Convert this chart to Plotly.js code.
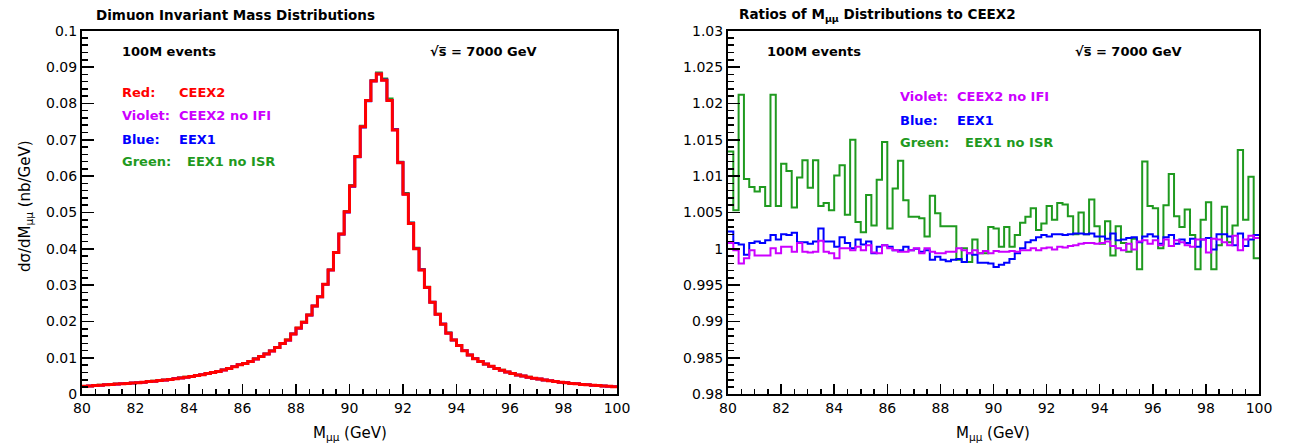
<!DOCTYPE html>
<html>
<head>
<meta charset="utf-8">
<script src="https://cdn.plot.ly/plotly-3.0.1.min.js"></script>
<style>html,body{margin:0;padding:0;background:#fff;}#chart{width:1290px;height:447px;}</style>
</head>
<body>
<div id="chart"></div>
<script>
// ---- data ----
const massMin = 80, massMax = 100, binWidth = 0.2;

// CEEX2 dσ/dM (nb/GeV), 100 bins of 0.2 GeV from 80 to 100
const ceex2 = [
  0.0022,0.0023,0.0024,0.0025,0.0026,0.0027,0.0028,0.0029,0.0030,0.0031,
  0.0032,0.0033,0.0035,0.0036,0.0038,0.0039,0.0041,0.0043,0.0045,0.0047,
  0.0049,0.0052,0.0054,0.0057,0.0060,0.0063,0.0067,0.0071,0.0076,
  0.0081,0.0085,0.0090,0.0097,0.0104,0.0111,0.0119,0.0129,0.0140,0.0149,
  0.0166,0.0182,0.0198,0.0218,0.0243,0.0268,0.0303,0.0342,0.0390,0.0441,
  0.0502,0.0573,0.0654,0.0736,0.0808,0.0862,0.0881,
  0.0864,0.0808,0.0727,0.0637,0.0550,0.0470,
  0.0400,0.0342,0.0294,0.0253,0.0220,0.0193,0.0168,0.0149,0.0134,0.0120,
  0.0108,0.0098,0.0090,0.0083,0.0077,0.0071,0.0066,0.0061,0.0057,0.0053,
  0.0050,0.0047,0.0044,0.0042,0.0039,0.0037,0.0035,0.0033,0.0032,0.0030,
  0.0029,0.0027,0.0026,0.0025,0.0024,0.0023,0.0022,0.0021
];

// Ratios to CEEX2
const ratioGreen = [
  1.0134,1.0053,1.0212,1.0096,1.0085,1.0079,1.0085,1.0059,1.0212,1.0059,
  1.0117,1.0107,1.0057,1.0098,1.0122,1.0084,1.0122,1.0059,1.0063,1.0053,
  1.0101,1.0115,1.0047,1.0150,1.0037,1.0023,1.0074,1.0032,1.0095,1.0147,
  1.0028,1.0083,1.0121,1.0067,1.0044,1.0044,1.0042,1.0017,1.0073,
  1.0049,1.0031,1.0031,1.0031,0.9985,1.0001,0.9982,1.0013,
  0.9994,0.9994,1.0030,1.0028,1.0003,1.0030,1.0003,1.0019,1.0036,1.0044,
  1.0056,1.0026,1.0035,1.0059,1.0040,1.0063,1.0061,1.0045,1.0020,1.0050,
  1.0020,1.0068,1.0031,1.0007,1.0038,0.9991,1.0031,1.0008,0.9996,1.0014,
  0.9972,1.0120,1.0059,1.0056,1.0001,1.0060,1.0103,1.0045,1.0030,1.0054,
  1.0019,0.9972,1.0040,1.0064,0.9972,1.0005,1.0058,1.0009,1.0032,1.0136,
  1.0040,1.0099,0.9987
];
const ratioBlue = [
  1.0024,1.0008,1.0006,0.9992,1.0008,1.0010,1.0008,1.0012,1.0019,1.0013,
  1.0020,1.0019,1.0022,1.0009,1.0009,1.0007,1.0010,1.0028,1.0010,1.0010,
  1.0003,1.0016,1.0008,1.0001,1.0013,1.0006,1.0010,0.9994,1.0003,1.0005,
  1.0003,0.9998,0.9998,1.0003,0.9998,1.0000,0.9996,0.9998,0.9985,0.9989,
  0.9985,0.9983,0.9985,0.9986,0.9982,0.9994,0.9992,0.9981,0.9981,0.9980,
  0.9975,0.9978,0.9981,0.9986,0.9994,1.0001,1.0009,1.0012,1.0016,1.0019,
  1.0017,1.0020,1.0020,1.0019,1.0020,1.0021,1.0021,1.0020,1.0021,1.0017,
  1.0017,1.0014,1.0021,1.0012,1.0013,1.0015,1.0016,1.0009,1.0017,1.0020,
  1.0017,1.0007,1.0016,1.0019,1.0007,1.0013,1.0008,1.0014,1.0003,1.0013,
  1.0015,0.9999,1.0020,1.0020,1.0017,1.0005,1.0021,1.0004,1.0013,1.0019
];
const ratioViolet = [
  1.0008,0.9998,0.9980,0.9987,0.9998,0.9991,0.9991,0.9991,1.0001,0.9994,
  1.0003,1.0003,0.9996,1.0008,0.9996,0.9995,0.9996,1.0011,0.9996,0.9994,
  0.9987,1.0001,1.0001,0.9998,1.0003,0.9998,1.0005,0.9995,0.9994,1.0005,
  1.0001,0.9998,0.9996,0.9996,0.9998,1.0001,0.9994,1.0001,0.9996,0.9994,
  0.9994,0.9996,0.9996,1.0001,0.9998,0.9994,0.9998,0.9994,0.9997,0.9994,
  0.9997,0.9996,0.9996,0.9997,0.9996,0.9998,0.9998,1.0001,0.9998,1.0001,
  1.0002,0.9999,1.0003,1.0002,1.0004,1.0005,1.0007,1.0008,1.0008,1.0007,
  1.0008,1.0010,1.0004,1.0001,0.9998,1.0007,0.9999,1.0010,1.0012,1.0007,
  1.0012,1.0005,1.0013,1.0004,1.0012,1.0009,1.0005,1.0003,1.0013,1.0013,
  0.9995,1.0014,1.0013,1.0009,1.0005,1.0018,0.9998,1.0013,1.0018,1.0015
];

// tick labels
const xTickVals = [80,82,84,86,88,90,92,94,96,98,100];
const xTickText = ["80","82","84","86","88","90","92","94","96","98","100"];
const yLeftVals = [0,0.01,0.02,0.03,0.04,0.05,0.06,0.07,0.08,0.09,0.1];
const yLeftText = ["0","0.01","0.02","0.03","0.04","0.05","0.06","0.07","0.08","0.09","0.1"];
const yRightVals = [0.98,0.985,0.99,0.995,1,1.005,1.01,1.015,1.02,1.025,1.03];
const yRightText = ["0.98","0.985","0.99","0.995","1","1.005","1.01","1.015","1.02","1.025","1.03"];

// ---- build ----
const W = 1290, H = 447;
const FONT = "DejaVu Sans";
const C = {red:"#ff0000", violet:"#cc00ff", blue:"#0000ff", green:"#1f9a1f"};

const nBins = ceex2.length;
const edges = [];
for (let i = 0; i <= nBins; i++) edges.push(+(massMin + i * binWidth).toFixed(3));
const stepY = v => v.concat([v[v.length - 1]]);
const times = (a, r) => a.map((v, i) => v * r[i]);

function step(vals, color, width, xa, ya) {
  return {x: edges, y: stepY(vals), type: "scatter", mode: "lines",
          line: {shape: "hv", color: color, width: width}, xaxis: xa, yaxis: ya,
          hoverinfo: "skip", showlegend: false};
}

const traces = [
  step(times(ceex2, ratioGreen), C.green, 2.5, "x", "y"),
  step(times(ceex2, ratioBlue), C.blue, 2.5, "x", "y"),
  step(times(ceex2, ratioViolet), C.violet, 2.5, "x", "y"),
  step(ceex2, C.red, 3, "x", "y"),
  step(ratioGreen, C.green, 2, "x2", "y2"),
  step(ratioBlue, C.blue, 2, "x2", "y2"),
  step(ratioViolet, C.violet, 2, "x2", "y2")
];

const yDom = [1 - 394.3 / H, 1 - 30.7 / H];
function xAxis(dom) {
  return {domain: dom, range: [massMin, massMax], tickmode: "array", tickvals: xTickVals, ticktext: xTickText,
          ticks: "inside", ticklen: 10, tickwidth: 1.5, tickcolor: "#000",
          minor: {tickmode: "linear", tick0: 80, dtick: 0.5, ticks: "inside", ticklen: 5, tickwidth: 1.5, tickcolor: "#000"},
          showline: true, linecolor: "#000", linewidth: 2, mirror: true, showgrid: false, zeroline: false,
          tickfont: {family: FONT, size: 14, color: "#000"}, fixedrange: true};
}
function yAxis(range, vals, text, minorD, anchor) {
  return {domain: yDom, range: range, tickmode: "array", tickvals: vals, ticktext: text, anchor: anchor,
          ticks: "inside", ticklen: 12, tickwidth: 1.5, tickcolor: "#000",
          minor: {tickmode: "linear", tick0: range[0], dtick: minorD, ticks: "inside", ticklen: 6, tickwidth: 1.5, tickcolor: "#000"},
          showline: true, linecolor: "#000", linewidth: 2, mirror: true, showgrid: false, zeroline: false,
          tickfont: {family: FONT, size: 14, color: "#000"}, fixedrange: true};
}

function ann(text, x, y, size, color, bold, extra) {
  return Object.assign({text: bold ? "<b>" + text + "</b>" : text, x: x / W, y: 1 - y / H,
    xref: "paper", yref: "paper", xanchor: "left", yanchor: "middle", showarrow: false,
    font: {family: FONT, size: size, color: color}}, extra || {});
}

const sqrtS = "√s\u0305 = 7000 GeV";
const annotations = [
  ann("Dimuon Invariant Mass Distributions", 94, 15, 13.5, "#000", true),
  ann("100M events", 120, 52, 13, "#000", true),
  ann(sqrtS, 428, 52, 13, "#000", true),
  ann("Red:", 120, 92, 13, C.red, true), ann("CEEX2", 177, 92, 13, C.red, true),
  ann("Violet:", 120, 115, 13, C.violet, true), ann("CEEX2 no IFI", 177, 115, 13, C.violet, true),
  ann("Blue:", 120, 139, 13, C.blue, true), ann("EEX1", 177, 139, 13, C.blue, true),
  ann("Green:", 120, 161, 13, C.green, true), ann("EEX1 no ISR", 185, 161, 13, C.green, true),
  ann("dσ/dM<sub>μμ</sub> (nb/GeV)", 25, 206, 15, "#000", false, {xanchor: "center", textangle: -90}),
  ann("M<sub>μμ</sub> (GeV)", 350, 433, 15, "#000", false, {xanchor: "center"}),

  ann("Ratios of M<sub>μμ</sub> Distributions to CEEX2", 737, 15, 13.5, "#000", true),
  ann("100M events", 765, 52, 13, "#000", true),
  ann(sqrtS, 1073, 52, 13, "#000", true),
  ann("Violet:", 898, 97, 13, C.violet, true), ann("CEEX2 no IFI", 955, 97, 13, C.violet, true),
  ann("Blue:", 898, 120, 13, C.blue, true), ann("EEX1", 955, 120, 13, C.blue, true),
  ann("Green:", 898, 142, 13, C.green, true), ann("EEX1 no ISR", 963, 142, 13, C.green, true),
  ann("M<sub>μμ</sub> (GeV)", 993, 433, 15, "#000", false, {xanchor: "center"})
];

const layout = {
  width: W, height: H, margin: {l: 0, r: 0, t: 0, b: 0},
  paper_bgcolor: "#fff", plot_bgcolor: "#fff", showlegend: false,
  xaxis: Object.assign(xAxis([82 / W, 617 / W]), {anchor: "y"}),
  yaxis: yAxis([0, 0.1], yLeftVals, yLeftText, 0.002, "x"),
  xaxis2: Object.assign(xAxis([728 / W, 1259 / W]), {anchor: "y2"}),
  yaxis2: yAxis([0.98, 1.03], yRightVals, yRightText, 0.001, "x2"),
  annotations: annotations
};

Plotly.newPlot("chart", traces, layout, {staticPlot: true, displayModeBar: false});
</script>
</body>
</html>
